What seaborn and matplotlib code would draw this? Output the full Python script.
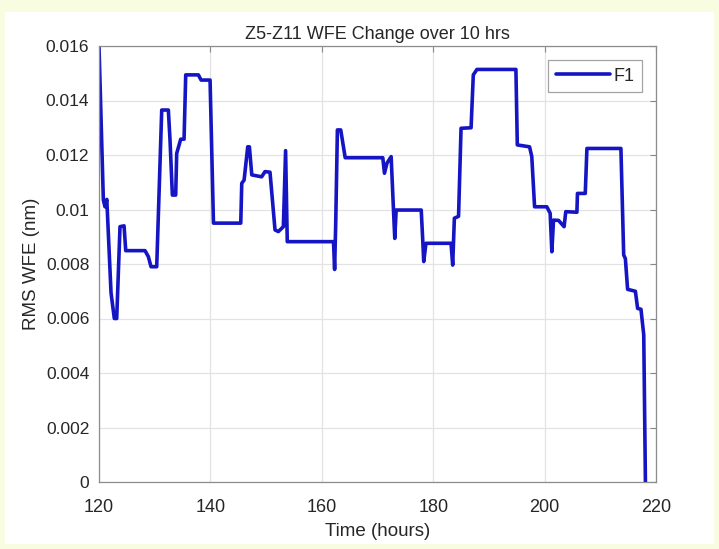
import numpy as np
import pandas as pd
import seaborn as sns
import matplotlib.pyplot as plt
from matplotlib.patches import Rectangle

# %%
# values
hours = [120.0, 120.78, 121.08, 121.4, 122.16, 122.75, 123.18, 123.77, 124.5, 124.8,
         128.26, 128.86, 129.34, 130.36, 131.26, 132.45, 132.75, 133.17, 133.77, 133.95,
         134.67, 135.27, 135.57, 137.84, 138.33, 139.94, 140.55, 145.45, 145.63, 146.05,
         146.7, 147.0, 147.43, 149.2, 149.8, 150.7, 151.6, 152.2, 153.1, 153.5,
         153.8, 162.1, 162.3, 162.5, 162.8, 163.4, 164.2, 170.95, 171.25, 171.7,
         172.45, 172.87, 173.1, 173.35, 177.85, 178.15, 178.3, 178.7, 183.2, 183.5,
         183.8, 184.55, 185.0, 186.8, 187.2, 187.85, 194.85, 195.1, 197.3, 197.7,
         198.2, 200.4, 201.0, 201.3, 201.6, 202.5, 203.5, 203.8, 205.8, 205.9,
         207.3, 207.6, 213.7, 214.2, 214.5, 214.9, 216.3, 216.7, 217.3, 217.8,
         218.1]
rms_wfe = [0.0160, 0.01035, 0.0101, 0.01037, 0.00694, 0.0060, 0.0060, 0.00937, 0.0094, 0.00849,
           0.00849, 0.00827, 0.0079, 0.0079, 0.01365, 0.01365, 0.01255, 0.01053, 0.01053, 0.01206,
           0.01258, 0.01258, 0.01494, 0.01494, 0.01475, 0.01475, 0.0095, 0.0095, 0.01096, 0.01108,
           0.0123, 0.0123, 0.01127, 0.0112, 0.01139, 0.01137, 0.00925, 0.00919, 0.00937, 0.01216,
           0.00882, 0.00882, 0.0078, 0.0095, 0.01292, 0.01292, 0.0119, 0.0119, 0.01133, 0.0117,
           0.01194, 0.00998, 0.00894, 0.00998, 0.00998, 0.00876, 0.00809, 0.00876, 0.00876, 0.00796,
           0.00968, 0.00975, 0.01298, 0.0130, 0.01494, 0.01514, 0.01514, 0.01237, 0.0123, 0.01194,
           0.0101, 0.0101, 0.00986, 0.00845, 0.00961, 0.0096, 0.00937, 0.00992, 0.0099, 0.01059,
           0.01059, 0.01224, 0.01224, 0.00833, 0.0082, 0.00707, 0.0070, 0.00637, 0.00634, 0.0054,
           0.0]

xticks = [120, 140, 160, 180, 200, 220]
yticks = [0, 0.002, 0.004, 0.006, 0.008, 0.01, 0.012, 0.014, 0.016]
ytick_labels = ['0', '0.002', '0.004', '0.006', '0.008', '0.01', '0.012', '0.014', '0.016']

df = pd.DataFrame({'Time (hours)': hours, 'RMS WFE (nm)': rms_wfe, 'series': 'F1'})

# %%
sns.set_style('white')
plt.rcParams['font.family'] = ['Liberation Sans', 'DejaVu Sans']

fig = plt.figure(figsize=(7.19, 5.49), dpi=100, facecolor='#f8fce0')
# white panel behind the chart
fig.patches.append(Rectangle((5 / 719, 1 - 544 / 549), 709 / 719, 532 / 549,
                             transform=fig.transFigure, facecolor='white',
                             edgecolor='none', zorder=-10))
ax = fig.add_axes([99 / 719, 1 - 482 / 549, 557 / 719, 436 / 549])

sns.lineplot(data=df, x='Time (hours)', y='RMS WFE (nm)', hue='series',
             palette=['#1515c4'], linewidth=2.6, sort=False, estimator=None, ax=ax)

ax.set_xlim(120, 220)
ax.set_ylim(0, 0.016)
ax.set_xticks(xticks)
ax.set_yticks(yticks)
ax.set_yticklabels(ytick_labels)
ax.grid(True, color='#e3e3e3', linewidth=0.9)
ax.tick_params(direction='in', top=True, right=True, length=4, width=0.8,
               colors='#888888', labelcolor='#262626', labelsize=12.5)
ax.tick_params(axis='x', pad=12, labelsize=13)
ax.tick_params(axis='y', pad=7)
for s in ax.spines.values():
    s.set_color('#8c8c8c')
    s.set_linewidth(0.9)

ax.set_title('Z5-Z11 WFE Change over 10 hrs', fontsize=13, color='#262626', pad=5)
ax.set_xlabel('Time (hours)', fontsize=13.5, color='#262626', labelpad=5)
ax.set_ylabel('RMS WFE (nm)', fontsize=13.5, color='#262626', labelpad=4)

leg = ax.legend(loc='upper right', fontsize=13, frameon=True, fancybox=False,
                handlelength=3.0, borderaxespad=0.8, handletextpad=0.2, borderpad=0.4)
leg.get_frame().set_edgecolor('#8c8c8c')
leg.get_frame().set_linewidth(0.9)

plt.savefig('out.png', dpi=100, facecolor=fig.get_facecolor())
